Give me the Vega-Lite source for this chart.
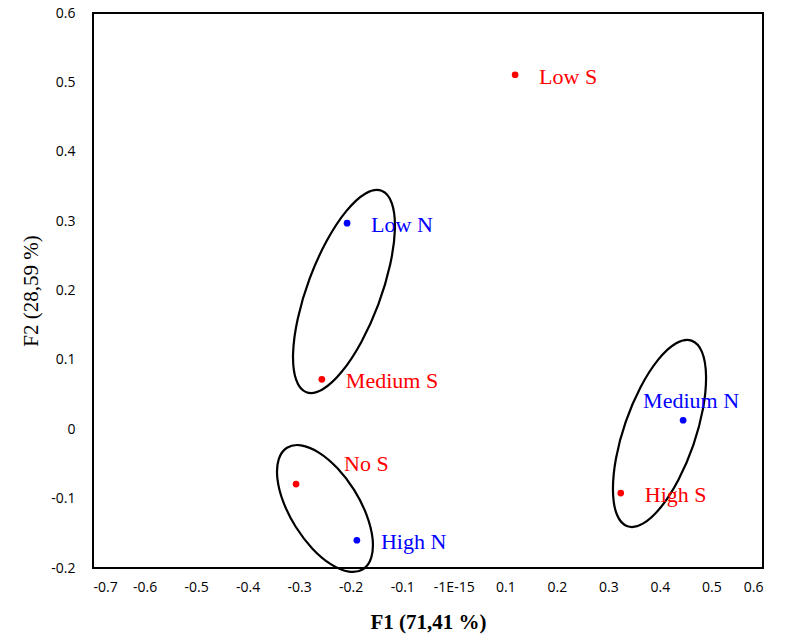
{
  "$schema": "https://vega.github.io/schema/vega-lite/v6.json",
  "autosize": "none",
  "width": 670,
  "height": 555,
  "padding": {"left": 93, "top": 13, "right": 24, "bottom": 68},
  "background": "white",
  "config": {
    "view": {"stroke": "black", "strokeWidth": 2},
    "axis": {"grid": false, "domain": false, "ticks": false, "labelFont": "Open Sans", "labelFontSize": 14, "labelColor": "black", "titleColor": "black", "titleFont": "Liberation Serif", "titleFontSize": 21}
  },
  "datasets": {
    "pts": [
      {"label": "Low S", "type": "S", "F1": 0.119, "F2": 0.511},
      {"label": "Low N", "type": "N", "F1": -0.207, "F2": 0.297},
      {"label": "Medium S", "type": "S", "F1": -0.256, "F2": 0.072},
      {"label": "Medium N", "type": "N", "F1": 0.445, "F2": 0.013},
      {"label": "High S", "type": "S", "F1": 0.324, "F2": -0.092},
      {"label": "No S", "type": "S", "F1": -0.306, "F2": -0.079},
      {"label": "High N", "type": "N", "F1": -0.188, "F2": -0.16}
    ],
    "ell": [
      {"g": 1, "i": 0, "F1": -0.1400, "F2": 0.3438},
      {"g": 1, "i": 1, "F1": -0.1201, "F2": 0.3257},
      {"g": 1, "i": 2, "F1": -0.1142, "F2": 0.2882},
      {"g": 1, "i": 3, "F1": -0.1235, "F2": 0.2371},
      {"g": 1, "i": 4, "F1": -0.1463, "F2": 0.1801},
      {"g": 1, "i": 5, "F1": -0.1793, "F2": 0.1259},
      {"g": 1, "i": 6, "F1": -0.2174, "F2": 0.0828},
      {"g": 1, "i": 7, "F1": -0.2549, "F2": 0.0573},
      {"g": 1, "i": 8, "F1": -0.2860, "F2": 0.0534},
      {"g": 1, "i": 9, "F1": -0.3059, "F2": 0.0715},
      {"g": 1, "i": 10, "F1": -0.3118, "F2": 0.1090},
      {"g": 1, "i": 11, "F1": -0.3025, "F2": 0.1601},
      {"g": 1, "i": 12, "F1": -0.2797, "F2": 0.2171},
      {"g": 1, "i": 13, "F1": -0.2467, "F2": 0.2713},
      {"g": 1, "i": 14, "F1": -0.2086, "F2": 0.3144},
      {"g": 1, "i": 15, "F1": -0.1711, "F2": 0.3399},
      {"g": 2, "i": 0, "F1": -0.3236, "F2": -0.0266},
      {"g": 2, "i": 1, "F1": -0.2963, "F2": -0.0232},
      {"g": 2, "i": 2, "F1": -0.2618, "F2": -0.0336},
      {"g": 2, "i": 3, "F1": -0.2256, "F2": -0.0563},
      {"g": 2, "i": 4, "F1": -0.1931, "F2": -0.0878},
      {"g": 2, "i": 5, "F1": -0.1692, "F2": -0.1233},
      {"g": 2, "i": 6, "F1": -0.1576, "F2": -0.1574},
      {"g": 2, "i": 7, "F1": -0.1601, "F2": -0.1850},
      {"g": 2, "i": 8, "F1": -0.1762, "F2": -0.2018},
      {"g": 2, "i": 9, "F1": -0.2035, "F2": -0.2052},
      {"g": 2, "i": 10, "F1": -0.2380, "F2": -0.1948},
      {"g": 2, "i": 11, "F1": -0.2742, "F2": -0.1721},
      {"g": 2, "i": 12, "F1": -0.3067, "F2": -0.1406},
      {"g": 2, "i": 13, "F1": -0.3306, "F2": -0.1051},
      {"g": 2, "i": 14, "F1": -0.3422, "F2": -0.0710},
      {"g": 2, "i": 15, "F1": -0.3397, "F2": -0.0434},
      {"g": 3, "i": 0, "F1": 0.4613, "F2": 0.1277},
      {"g": 3, "i": 1, "F1": 0.4817, "F2": 0.1111},
      {"g": 3, "i": 2, "F1": 0.4895, "F2": 0.0767},
      {"g": 3, "i": 3, "F1": 0.4836, "F2": 0.0297},
      {"g": 3, "i": 4, "F1": 0.4648, "F2": -0.0228},
      {"g": 3, "i": 5, "F1": 0.4360, "F2": -0.0727},
      {"g": 3, "i": 6, "F1": 0.4017, "F2": -0.1125},
      {"g": 3, "i": 7, "F1": 0.3669, "F2": -0.1361},
      {"g": 3, "i": 8, "F1": 0.3371, "F2": -0.1399},
      {"g": 3, "i": 9, "F1": 0.3167, "F2": -0.1233},
      {"g": 3, "i": 10, "F1": 0.3089, "F2": -0.0889},
      {"g": 3, "i": 11, "F1": 0.3148, "F2": -0.0419},
      {"g": 3, "i": 12, "F1": 0.3336, "F2": 0.0106},
      {"g": 3, "i": 13, "F1": 0.3624, "F2": 0.0605},
      {"g": 3, "i": 14, "F1": 0.3967, "F2": 0.1003},
      {"g": 3, "i": 15, "F1": 0.4315, "F2": 0.1239}
    ]
  },
  "encoding": {
    "x": {"field": "F1", "type": "quantitative", "scale": {"domain": [-0.7, 0.6], "nice": false, "zero": false},
      "axis": {"values": [-0.7, -0.6, -0.5, -0.4, -0.3, -0.2, -0.1, 0, 0.1, 0.2, 0.3, 0.4, 0.5, 0.6], "labelExpr": "abs(datum.value) < 1e-9 ? '-1E-15' : replace(format(datum.value, '.1~f'), '\u2212', '-')", "labelPadding": 12, "title": "F1 (71,41 %)", "titleFontWeight": "bold", "titlePadding": 17}},
    "y": {"field": "F2", "type": "quantitative", "scale": {"domain": [-0.2, 0.6], "nice": false, "zero": false},
      "axis": {"values": [-0.2, -0.1, 0, 0.1, 0.2, 0.3, 0.4, 0.5, 0.6], "labelExpr": "replace(format(datum.value, '.1~f'), '\u2212', '-')", "labelPadding": 18, "title": "F2 (28,59 %)", "titleFontWeight": "normal", "titlePadding": 9}}
  },
  "layer": [
    {
      "data": {"name": "ell"},
      "mark": {"type": "line", "interpolate": "cardinal-closed", "color": "black", "strokeWidth": 2.2},
      "encoding": {"detail": {"field": "g"}, "order": {"field": "i", "type": "quantitative"}}
    },
    {
      "data": {"name": "pts"},
      "mark": {"type": "circle", "size": 45, "opacity": 1},
      "encoding": {"color": {"field": "type", "type": "nominal", "scale": {"domain": ["S", "N"], "range": ["#FF0000", "#0000FF"]}, "legend": null}}
    },
    {
      "data": {"name": "pts"},
      "transform": [{"filter": "datum.label != 'No S' && datum.label != 'Medium N'"}],
      "mark": {"type": "text", "align": "left", "baseline": "middle", "dx": 24, "dy": 2, "font": "Liberation Serif", "fontSize": 22},
      "encoding": {"text": {"field": "label"}, "color": {"field": "type", "type": "nominal", "scale": {"domain": ["S", "N"], "range": ["#FF0000", "#0000FF"]}, "legend": null}}
    },
    {
      "data": {"name": "pts"},
      "transform": [{"filter": "datum.label == 'No S'"}],
      "mark": {"type": "text", "align": "left", "baseline": "middle", "dx": 48, "dy": -20, "font": "Liberation Serif", "fontSize": 22},
      "encoding": {"text": {"field": "label"}, "color": {"field": "type", "type": "nominal", "scale": {"domain": ["S", "N"], "range": ["#FF0000", "#0000FF"]}, "legend": null}}
    },
    {
      "data": {"name": "pts"},
      "transform": [{"filter": "datum.label == 'Medium N'"}],
      "mark": {"type": "text", "align": "left", "baseline": "middle", "dx": -40, "dy": -19, "font": "Liberation Serif", "fontSize": 22},
      "encoding": {"text": {"field": "label"}, "color": {"field": "type", "type": "nominal", "scale": {"domain": ["S", "N"], "range": ["#FF0000", "#0000FF"]}, "legend": null}}
    }
  ]
}
